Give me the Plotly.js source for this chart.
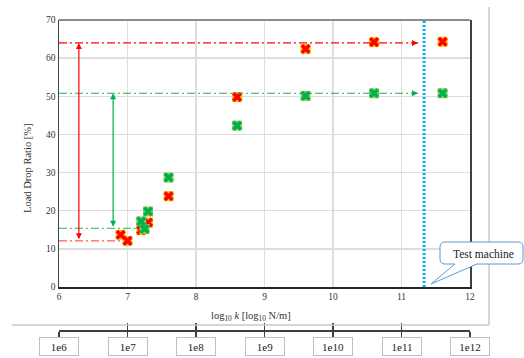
<!DOCTYPE html>
<html>
<head>
<meta charset="utf-8">
<script src="https://cdn.plot.ly/plotly-3.0.1.min.js"></script>
<style>html,body{margin:0;padding:0;background:#fff;}#chart{width:524px;height:358px;}</style>
</head>
<body>
<div id="chart"></div>
<script>
// ---- data ----
const redX = [6.9, 7.0, 7.2, 7.3, 7.6, 8.6, 9.6, 10.6, 11.6];
const redY = [13.7, 12.1, 14.9, 16.9, 23.8, 49.8, 62.4, 64.2, 64.3];
const greenX = [7.2, 7.25, 7.3, 7.6, 8.6, 9.6, 10.6, 11.6];
const greenY = [17.2, 15.2, 19.8, 28.7, 42.3, 50.1, 50.8, 50.8];
// reference levels
const redMax = 64.0, redMin = 12.1, greenMax = 50.8, greenMin = 15.4;
const redMinEnd = 6.9, greenMinEnd = 7.18, maxLineEnd = 11.24;
const redArrowX = 6.29, greenArrowX = 6.79;
const testMachineX = 11.33;
// secondary axis
const expTicks = [6, 7, 8, 9, 10, 11, 12];
const expLabels = ['1e6', '1e7', '1e8', '1e9', '1e10', '1e11', '1e12'];
const xTicks = [6, 7, 8, 9, 10, 11, 12];
const yTicks = [0, 10, 20, 30, 40, 50, 60, 70];

// ---- helpers: pixel -> paper ----
const W = 524, H = 358;
const px = x => x / W;
const py = y => 1 - y / H;

const serif = '"Liberation Serif", "Times New Roman", serif';
const RED = '#ff0000', GREEN = '#00b050';

const traces = [
  {x: redX, y: redY, mode: 'markers', type: 'scatter', hoverinfo: 'skip',
   marker: {symbol: 'square', size: 10, color: '#ffc000', line: {width: 0}}},
  {x: redX, y: redY, mode: 'markers', type: 'scatter', hoverinfo: 'skip',
   marker: {symbol: 'x', size: 9, color: RED, line: {width: 0}}},
  {x: greenX, y: greenY, mode: 'markers', type: 'scatter', hoverinfo: 'skip',
   marker: {symbol: 'square', size: 10, color: '#92d050', line: {width: 0}}},
  {x: greenX, y: greenY, mode: 'markers', type: 'scatter', hoverinfo: 'skip',
   marker: {symbol: 'x', size: 9, color: GREEN, line: {width: 0}}},
  {x: expTicks, y: expTicks.map(() => null), xaxis: 'x2', yaxis: 'y', mode: 'markers', hoverinfo: 'skip'},
  {x: expTicks, y: expTicks.map(() => null), xaxis: 'x3', yaxis: 'y', mode: 'markers', hoverinfo: 'skip'}
];

const dd = '8px,3px,2px,3px';
const shapes = [
  // top border of plot
  {type: 'line', xref: 'paper', yref: 'paper', x0: px(59), x1: px(470), y0: py(20), y1: py(20),
   line: {color: '#8c8c8c', width: 2}},
  // outer chart frame
  {type: 'line', xref: 'paper', yref: 'paper', x0: px(489), x1: px(489), y0: py(7), y1: py(325),
   line: {color: '#c8c8c8', width: 1.5}},
  {type: 'line', xref: 'paper', yref: 'paper', x0: px(12), x1: px(489), y0: py(325), y1: py(325),
   line: {color: '#c8c8c8', width: 1.5}},
  // dash-dot reference lines
  {type: 'line', xref: 'x', yref: 'y', x0: 6, x1: maxLineEnd, y0: redMax, y1: redMax,
   line: {color: RED, width: 1.2, dash: dd}},
  {type: 'line', xref: 'x', yref: 'y', x0: 6, x1: maxLineEnd, y0: greenMax, y1: greenMax,
   line: {color: '#20b050', width: 1.2, dash: dd}},
  {type: 'line', xref: 'x', yref: 'y', x0: 6, x1: redMinEnd, y0: redMin, y1: redMin,
   line: {color: '#ff5a5a', width: 1.2, dash: dd}},
  {type: 'line', xref: 'x', yref: 'y', x0: 6, x1: greenMinEnd, y0: greenMin, y1: greenMin,
   line: {color: '#20b050', width: 1.2, dash: dd}},
  // test machine line
  {type: 'line', xref: 'x', yref: 'paper', x0: testMachineX, x1: testMachineX, y0: py(287), y1: py(20),
   line: {color: '#00b0f0', width: 3, dash: '2px,2px'}},
  // callout
  {type: 'path', xref: 'paper', yref: 'paper', layer: 'above',
   path: (() => {
     const P = (x, y) => px(x) + ',' + py(y);
     return 'M' + P(445, 242) + ' L' + P(518, 242) + ' Q' + P(523, 242) + ' ' + P(523, 247) +
       ' L' + P(523, 259) + ' Q' + P(523, 264) + ' ' + P(518, 264) +
       ' L' + P(477, 264) + ' L' + P(431, 284) + ' L' + P(455, 264) +
       ' L' + P(445, 264) + ' Q' + P(440, 264) + ' ' + P(440, 259) +
       ' L' + P(440, 247) + ' Q' + P(440, 242) + ' ' + P(445, 242) + ' Z';
   })(),
   fillcolor: '#ffffff', line: {color: '#5b9bd5', width: 1}}
];

const annotations = [
  // vertical double arrows
  {x: redArrowX, y: redMax, ax: redArrowX, ay: redMin, xref: 'x', yref: 'y', axref: 'x', ayref: 'y',
   text: '', showarrow: true, arrowside: 'end+start', arrowhead: 2, startarrowhead: 2,
   arrowsize: 1, startarrowsize: 1, arrowwidth: 1.2, arrowcolor: RED},
  {x: greenArrowX, y: greenMax, ax: greenArrowX, ay: greenMin, xref: 'x', yref: 'y', axref: 'x', ayref: 'y',
   text: '', showarrow: true, arrowside: 'end+start', arrowhead: 2, startarrowhead: 2,
   arrowsize: 1, startarrowsize: 1, arrowwidth: 1.2, arrowcolor: GREEN},
  // horizontal arrow heads
  {x: maxLineEnd, y: redMax, xref: 'x', yref: 'y', ax: -6, ay: 0, text: '', showarrow: true,
   arrowhead: 2, arrowsize: 1, arrowwidth: 1.2, arrowcolor: RED},
  {x: maxLineEnd, y: greenMax, xref: 'x', yref: 'y', ax: -6, ay: 0, text: '', showarrow: true,
   arrowhead: 2, arrowsize: 1, arrowwidth: 1.2, arrowcolor: GREEN},
  // partially hidden secondary title (drawn under the boxes)
  {x: px(247), y: py(354), xref: 'paper', yref: 'paper', xanchor: 'center', yanchor: 'top', showarrow: false,
   text: '<i>k</i> [N/m]', font: {family: serif, size: 10.5, color: '#555'}},
  // callout text
  {x: px(483), y: py(254), xref: 'paper', yref: 'paper', xanchor: 'center', yanchor: 'middle',
   text: 'Test machine', showarrow: false, font: {family: serif, size: 11.5, color: '#222'}},
  // axis titles
  {x: px(251), y: py(316), xref: 'paper', yref: 'paper', xanchor: 'center', yanchor: 'middle', showarrow: false,
   text: 'log<sub>10</sub> <i>k</i> [log<sub>10</sub> N/m]', font: {family: serif, size: 10.5, color: '#333'}},
  {x: px(28), y: py(168), xref: 'paper', yref: 'paper', xanchor: 'center', yanchor: 'middle', showarrow: false,
   textangle: -90, text: 'Load Drop Ratio [%]', font: {family: serif, size: 10.5, color: '#333'}}
];
expTicks.forEach((v, i) => {
  annotations.push({x: v, xref: 'x2', y: py(346.5), yref: 'paper', xanchor: 'center', yanchor: 'middle',
    showarrow: false, text: expLabels[i], width: 38, height: 17, borderpad: 0,
    bordercolor: '#bfbfbf', borderwidth: 1, bgcolor: '#ffffff',
    font: {family: serif, size: 11, color: '#222'}});
});

const secAxis = (dir) => ({
  overlaying: 'x', anchor: 'free', position: py(330), range: [6, 12],
  showline: true, linecolor: '#404040', linewidth: 1.5,
  ticks: dir, ticklen: 7, tickwidth: 1.5, tickcolor: '#404040',
  tickvals: expTicks, showticklabels: false, showgrid: false, zeroline: false, fixedrange: true
});

const layout = {
  width: W, height: H,
  margin: {l: 0, r: 0, t: 0, b: 0},
  paper_bgcolor: '#fff', plot_bgcolor: '#fff',
  showlegend: false,
  font: {family: serif},
  xaxis: {domain: [px(59), px(470)], range: [6, 12], tickvals: xTicks, ticks: '',
    showgrid: true, gridcolor: '#dedede', gridwidth: 1.5, zeroline: false,
    showline: true, linecolor: '#262626', linewidth: 1.5, mirror: false,
    tickfont: {family: serif, size: 9.5, color: '#333'}, fixedrange: true},
  xaxis2: secAxis('outside'),
  xaxis3: secAxis('inside'),
  yaxis: {domain: [py(287), py(20)], range: [0, 70], tickvals: yTicks, ticks: '',
    showgrid: true, gridcolor: '#dedede', gridwidth: 1.5, zeroline: false,
    showline: true, linecolor: '#404040', linewidth: 1.5, mirror: true,
    tickfont: {family: serif, size: 9.5, color: '#333'}, fixedrange: true},
  shapes: shapes,
  annotations: annotations
};

Plotly.newPlot('chart', traces, layout, {staticPlot: true, displayModeBar: false});
</script>
</body>
</html>
